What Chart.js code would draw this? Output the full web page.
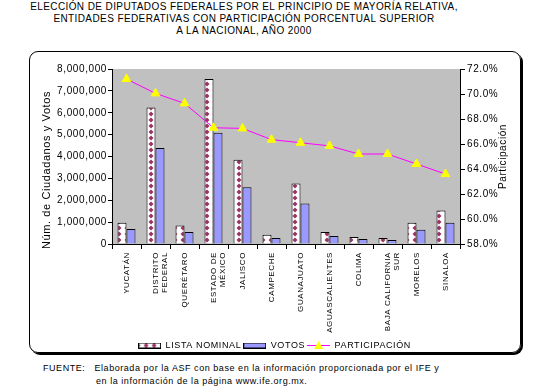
<!DOCTYPE html>
<html>
<head>
<meta charset="utf-8">
<script src="https://cdn.jsdelivr.net/npm/chart.js@4"></script>
<style>
  body { margin:0; width:540px; height:386px; background:#fff; position:relative; overflow:hidden;
         font-family: Arial, "Liberation Sans", sans-serif; color:#000; }
  #title { position:absolute; left:0; width:488px; top:1px; text-align:center; font-size:10px;
           line-height:12px; letter-spacing:0.4px; }
  #wrap { position:absolute; left:31px; top:51px; width:490px; height:303px; }
  #marco { position:absolute; left:29px; top:51px; width:490px; height:300px; border:1px solid #000;
           border-radius:9px; box-shadow:2px 2px 0 0 #000; pointer-events:none; z-index:2; }
  .src { position:absolute; font-size:9px; line-height:12px; letter-spacing:0.55px; white-space:nowrap; }
</style>
</head>
<body>
<div id="title">ELECCIÓN DE DIPUTADOS FEDERALES POR EL PRINCIPIO DE MAYORÍA RELATIVA,<br>
ENTIDADES FEDERATIVAS CON PARTICIPACIÓN PORCENTUAL SUPERIOR<br>
A LA NACIONAL, AÑO 2000</div>
<div id="wrap"><canvas id="chart"></canvas></div>
<div id="marco"></div>
<div class="src" style="left:43px;top:362px">FUENTE:&nbsp;&nbsp; Elaborada por la ASF con base en la información proporcionada por el IFE y</div>
<div class="src" style="left:96px;top:375px">en la información de la página www.ife.org.mx.</div>
<script>
// --- data ---
const categorias = [['YUCATÁN'], ['DISTRITO', 'FEDERAL'], ['QUERÉTARO'], ['ESTADO DE', 'MÉXICO'], ['JALISCO'],
  ['CAMPECHE'], ['GUANAJUATO'], ['AGUASCALIENTES'], ['COLIMA'], ['BAJA CALIFORNIA', 'SUR'], ['MORELOS'], ['SINALOA']];
const listaNominal = [970000, 6240000, 850000, 7540000, 3850000, 420000, 2770000, 550000, 320000, 280000, 970000, 1530000];
const votos = [690000, 4390000, 550000, 5090000, 2590000, 280000, 1850000, 370000, 230000, 180000, 650000, 970000];
const participacion = [71.2, 70.05, 69.25, 67.3, 67.25, 66.35, 66.1, 65.85, 65.2, 65.2, 64.4, 63.6];
const etiquetas = ['LISTA NOMINAL', 'VOTOS', 'PARTICIPACIÓN'];
const tituloIzq = 'Núm. de Ciudadanos y Votos';
const tituloDer = 'Participación';

const MAROON = '#993366', LILA = '#9999FF', MAGENTA = '#FF00FF', AMARILLO = '#FFFF00';
const FUENTE = 'Arial, "Liberation Sans", sans-serif';

// --- patterns / legend icons ---
function diamondTile() {
  const c = document.createElement('canvas');
  c.width = 8; c.height = 6;
  const g = c.getContext('2d');
  g.fillStyle = '#fff'; g.fillRect(0, 0, 8, 6);
  g.fillStyle = MAROON;
  for (const cx of [0, 8]) {
    g.beginPath();
    g.moveTo(cx, 0.5); g.lineTo(cx + 2.5, 3); g.lineTo(cx, 5.5); g.lineTo(cx - 2.5, 3);
    g.closePath(); g.fill();
  }
  return c;
}
const tile = diamondTile();
const patron = document.createElement('canvas').getContext('2d').createPattern(tile, 'repeat');

function iconBox(fill) {
  const c = document.createElement('canvas');
  c.width = 23; c.height = 6;
  const g = c.getContext('2d');
  g.fillStyle = fill === 'pat' ? g.createPattern(tile, 'repeat') : fill;
  g.fillRect(0, 0, 23, 6);
  g.strokeStyle = '#000'; g.lineWidth = 1;
  g.strokeRect(0.5, 0.5, 22, 5);
  return c;
}
function iconLine() {
  const c = document.createElement('canvas');
  c.width = 23; c.height = 9;
  const g = c.getContext('2d');
  g.strokeStyle = MAGENTA; g.lineWidth = 1;
  g.beginPath(); g.moveTo(0, 4.5); g.lineTo(23, 4.5); g.stroke();
  g.fillStyle = AMARILLO;
  g.beginPath(); g.moveTo(11.5, 0); g.lineTo(16, 8); g.lineTo(7, 8); g.closePath(); g.fill();
  return c;
}
const iconos = [iconBox('pat'), iconBox(LILA), iconLine()];

// --- plugins ---
const fondo = {
  id: 'fondo',
  beforeLayout(chart) { chart.ctx.letterSpacing = '0.6px'; },
  beforeDraw(chart) {
    const { ctx, chartArea: a } = chart;
    ctx.letterSpacing = '0.6px';
    ctx.save();
    ctx.fillStyle = '#C0C0C0';
    ctx.fillRect(a.left, a.top, a.right - a.left, a.bottom - a.top);
    ctx.restore();
  },
  afterDraw(chart) {
    const { ctx, chartArea: a } = chart;
    ctx.save();
    ctx.font = '10px ' + FUENTE;
    ctx.fillStyle = '#000';
    ctx.textBaseline = 'middle';
    // right axis title
    ctx.save();
    ctx.textAlign = 'center';
    ctx.translate(a.right + 43, (a.top + a.bottom) / 2);
    ctx.rotate(-Math.PI / 2);
    ctx.fillText(tituloDer, 0, 0);
    ctx.restore();
    // left axis title (cut off at the top like the original)
    ctx.beginPath();
    ctx.rect(0, 38, 40, 200);
    ctx.clip();
    ctx.font = '11px ' + FUENTE;
    ctx.textAlign = 'left';
    ctx.translate(16, a.bottom + 5);
    ctx.rotate(-Math.PI / 2);
    ctx.fillText(tituloIzq, 0, 0);
    ctx.restore();
  }
};

const axisCommon = {
  grid: { drawOnChartArea: false, color: '#000', tickLength: 5 },
  border: { color: '#000' }
};

new Chart(document.getElementById('chart'), {
  data: {
    labels: categorias,
    datasets: [
      { type: 'bar', label: etiquetas[0], data: listaNominal, backgroundColor: patron,
        borderColor: '#000', borderWidth: 1, yAxisID: 'y', order: 1,
        categoryPercentage: 0.62, barPercentage: 1 },
      { type: 'bar', label: etiquetas[1], data: votos, backgroundColor: LILA,
        borderColor: '#000', borderWidth: 1, yAxisID: 'y', order: 1,
        categoryPercentage: 0.62, barPercentage: 1 },
      { type: 'line', label: etiquetas[2], data: participacion, borderColor: MAGENTA, borderWidth: 1,
        pointStyle: 'triangle', pointRadius: 5, pointBackgroundColor: AMARILLO, pointBorderColor: AMARILLO,
        pointBorderWidth: 1, tension: 0, yAxisID: 'y1', order: 0 }
    ]
  },
  options: {
    responsive: true,
    maintainAspectRatio: false,
    animation: false,
    layout: { padding: { top: 18, left: 0, right: 3, bottom: -6 } },
    plugins: {
      tooltip: { enabled: false },
      legend: {
        position: 'bottom',
        labels: {
          usePointStyle: true, pointStyleWidth: 23, boxHeight: 6, padding: 2,
          color: '#000', font: { family: FUENTE, size: 9 },
          generateLabels: () => etiquetas.map((t, i) => ({
            text: t, pointStyle: iconos[i], fillStyle: 'transparent', strokeStyle: 'transparent',
            lineWidth: 0, datasetIndex: i, hidden: false, fontColor: '#000'
          }))
        }
      }
    },
    scales: {
      x: {
        ...axisCommon,
        offset: true,
        grid: { ...axisCommon.grid, offset: true },
        ticks: { maxRotation: 90, minRotation: 90, autoSkip: false, color: '#000', padding: 3,
                 font: { family: FUENTE, size: 8 } },
        afterFit: s => { s.height = 95; }
      },
      y: {
        ...axisCommon,
        grid: { ...axisCommon.grid, tickLength: 4 },
        position: 'left', min: 0, max: 8000000,
        ticks: { stepSize: 1000000, color: '#000', padding: 1,
                 font: { family: FUENTE, size: 10 },
                 callback: v => v.toLocaleString('en-US') },
        afterFit: s => { s.width = 81; }
      },
      y1: {
        ...axisCommon,
        position: 'right', min: 58, max: 72,
        ticks: { stepSize: 2, color: '#000', padding: 2,
                 font: { family: FUENTE, size: 10 },
                 callback: v => v.toFixed(1) + '%' },
        afterFit: s => { s.width = 58; }
      }
    }
  },
  plugins: [fondo]
});
</script>
</body>
</html>
